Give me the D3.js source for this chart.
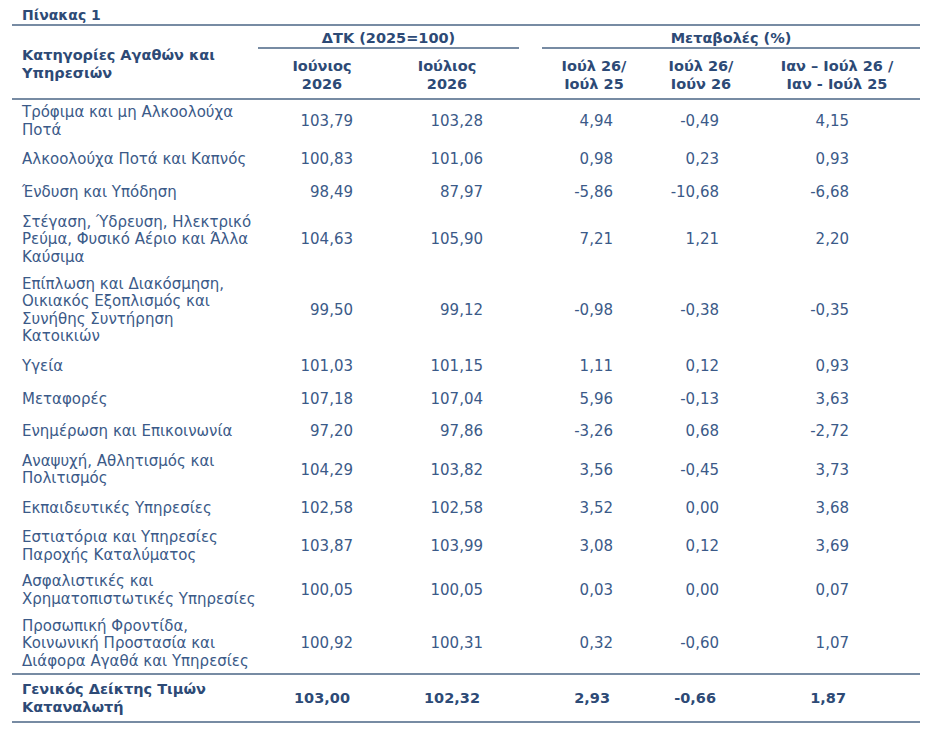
<!DOCTYPE html>
<html>
<head>
<meta charset="utf-8">
<script src="https://cdn.jsdelivr.net/npm/d3@7"></script>
<style>
  body { margin: 0; background: #fff; }
  svg text { font-family: "DejaVu Sans", Verdana, sans-serif; }
</style>
</head>
<body>
<div id="table"></div>
<script>
// table content
const title = "Πίνακας 1";
const stubHeader = "Κατηγορίες Αγαθών και\nΥπηρεσιών";
const groupHeaders = ["ΔΤΚ (2025=100)", "Μεταβολές (%)"];
const columnHeaders = ["Ιούνιος\n2026", "Ιούλιος\n2026", "Ιούλ 26/\nΙούλ 25", "Ιούλ 26/\nΙούν 26", "Ιαν – Ιούλ 26 /\nΙαν - Ιούλ 25"];

const categories = [
    "Τρόφιμα και μη Αλκοολούχα\nΠοτά",
    "Αλκοολούχα Ποτά και Καπνός",
    "Ένδυση και Υπόδηση",
    "Στέγαση, Ύδρευση, Ηλεκτρικό\nΡεύμα, Φυσικό Αέριο και Άλλα\nΚαύσιμα",
    "Επίπλωση και Διακόσμηση,\nΟικιακός Εξοπλισμός και\nΣυνήθης Συντήρηση\nΚατοικιών",
    "Υγεία",
    "Μεταφορές",
    "Ενημέρωση και Επικοινωνία",
    "Αναψυχή, Αθλητισμός και\nΠολιτισμός",
    "Εκπαιδευτικές Υπηρεσίες",
    "Εστιατόρια και Υπηρεσίες\nΠαροχής Καταλύματος",
    "Ασφαλιστικές και\nΧρηματοπιστωτικές Υπηρεσίες",
    "Προσωπική Φροντίδα,\nΚοινωνική Προστασία και\nΔιάφορα Αγαθά και Υπηρεσίες"
];
const june2026 = [103.79, 100.83, 98.49, 104.63, 99.50, 101.03, 107.18, 97.20, 104.29, 102.58, 103.87, 100.05, 100.92];
const july2026 = [103.28, 101.06, 87.97, 105.90, 99.12, 101.15, 107.04, 97.86, 103.82, 102.58, 103.99, 100.05, 100.31];
const julYoY = [4.94, 0.98, -5.86, 7.21, -0.98, 1.11, 5.96, -3.26, 3.56, 3.52, 3.08, 0.03, 0.32];
const julMoM = [-0.49, 0.23, -10.68, 1.21, -0.38, 0.12, -0.13, 0.68, -0.45, 0.00, 0.12, 0.00, -0.60];
const janJulYoY = [4.15, 0.93, -6.68, 2.20, -0.35, 0.93, 3.63, -2.72, 3.73, 3.68, 3.69, 0.07, 1.07];

const totalLabel = "Γενικός Δείκτης Τιμών\nΚαταναλωτή";
const totalValues = [103.00, 102.32, 2.93, -0.66, 1.87];

// layout
const width = 937, height = 748;
const left = 12, right = 920, textX = 22;
const lineH = 17.5;
// row height depending on how many text lines the row has
const rowHeight = {1: 32.5, 2: 44, 3: 62, 4: 80};
const colKeys = ["jun", "jul", "yoy", "mom", "ytd"];
const valueRight = d3.scaleOrdinal().domain(colKeys).range([353, 483, 613, 719, 849]);
const headerCenter = d3.scaleOrdinal().domain(colKeys).range([322, 447, 594, 701, 837]);
const groupSpans = [[258, 519], [542, 920]];

const textColor = "#3b5a88";
const boldColor = "#2d4a76";
const ruleColor = "#4a6584";

const locale = d3.formatLocale({decimal: ",", thousands: ".", grouping: [3], currency: ["", "€"], minus: "-"});
const fmt = locale.format(".2f");

const rows = categories.map((c, i) => ({
    label: c.split("\n"),
    values: [june2026[i], july2026[i], julYoY[i], julMoM[i], janJulYoY[i]]
}));

let acc = 0;
rows.forEach(r => {
    r.start = acc;
    r.h = rowHeight[r.label.length];
    acc += r.h;
});
const bodyTop = 99;
const y = d3.scaleLinear().domain([0, acc]).range([bodyTop, bodyTop + acc]);
const bodyBottom = y(acc);
const totalBottom = bodyBottom + 48;

const svg = d3.select("#table").append("svg")
    .attr("width", width)
    .attr("height", height);

function multiline(g, lines, x, cy, anchor) {
    const t = g.append("text")
        .attr("text-anchor", anchor)
        .attr("dominant-baseline", "central");
    lines.forEach((l, k) => {
        t.append("tspan")
            .attr("x", x)
            .attr("y", cy + (k - (lines.length - 1) / 2) * lineH)
            .text(l);
    });
    return t;
}

// title
svg.append("text")
    .attr("x", textX).attr("y", 15)
    .attr("dominant-baseline", "central")
    .attr("font-weight", "bold").attr("font-size", 14)
    .attr("fill", boldColor)
    .text(title);

// rules
const rules = [
    {x1: left, x2: right, y: 25},
    {x1: groupSpans[0][0], x2: groupSpans[0][1], y: 48},
    {x1: groupSpans[1][0], x2: groupSpans[1][1], y: 48},
    {x1: left, x2: right, y: bodyTop},
    {x1: left, x2: right, y: bodyBottom},
    {x1: left, x2: right, y: totalBottom}
];
svg.selectAll(".rule")
    .data(rules)
    .join("line")
    .attr("class", "rule")
    .attr("x1", d => d.x1).attr("x2", d => d.x2)
    .attr("y1", d => d.y).attr("y2", d => d.y)
    .attr("stroke", ruleColor)
    .attr("stroke-width", 1.5);

// header
const head = svg.append("g")
    .attr("font-weight", "bold")
    .attr("font-size", 14.5)
    .attr("fill", boldColor);

multiline(head, stubHeader.split("\n"), textX, 64, "start");

head.selectAll(".group")
    .data(groupHeaders)
    .join("text")
    .attr("class", "group")
    .attr("x", (d, i) => (groupSpans[i][0] + groupSpans[i][1]) / 2)
    .attr("y", 38)
    .attr("text-anchor", "middle")
    .attr("dominant-baseline", "central")
    .text(d => d);

columnHeaders.forEach((h, i) => {
    multiline(head, h.split("\n"), headerCenter(colKeys[i]), 75, "middle");
});

// body
const body = svg.append("g")
    .attr("font-size", 15)
    .attr("fill", textColor);

rows.forEach(r => {
    const cy = y(r.start + r.h / 2);
    const g = body.append("g");
    multiline(g, r.label, textX, cy, "start");
    g.selectAll(".val")
        .data(r.values)
        .join("text")
        .attr("class", "val")
        .attr("x", (d, i) => valueRight(colKeys[i]))
        .attr("y", cy)
        .attr("text-anchor", "end")
        .attr("dominant-baseline", "central")
        .text(d => fmt(d));
});

// total row
const tot = svg.append("g")
    .attr("font-weight", "bold")
    .attr("font-size", 14.5)
    .attr("fill", boldColor)
    .style("font-family", "'DejaVu Sans Condensed', 'DejaVu Sans', sans-serif");
const totalY = (bodyBottom + totalBottom) / 2;
multiline(tot, totalLabel.split("\n"), textX, totalY, "start");
tot.selectAll(".val")
    .data(totalValues)
    .join("text")
    .attr("class", "val")
    .attr("x", (d, i) => valueRight(colKeys[i]) - 3)
    .attr("y", totalY)
    .attr("text-anchor", "end")
    .attr("dominant-baseline", "central")
    .text(d => fmt(d));
</script>
</body>
</html>
